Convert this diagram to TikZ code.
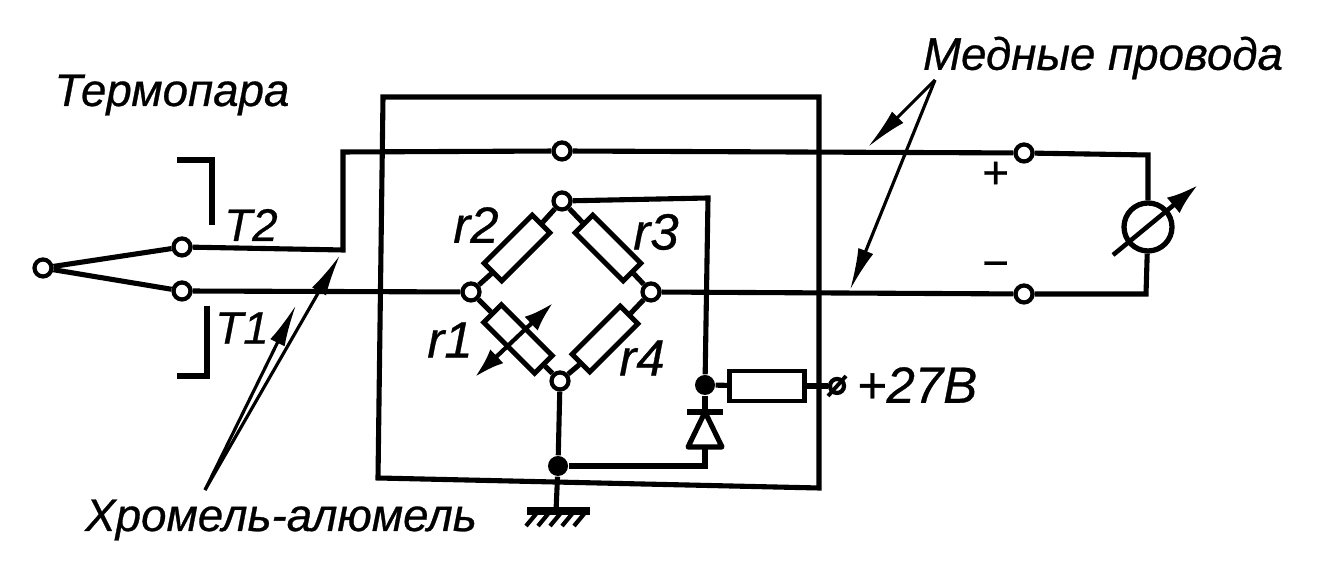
\documentclass[tikz,border=0pt]{standalone}
\usepackage{fontspec}
\setmainfont{Liberation Sans}[ItalicFeatures={FakeBold=0.6}]
\usetikzlibrary{arrows.meta}
\tikzset{
	wire/.style={line width=1.45pt},
	leader/.style={line width=.9pt, -{Latex[length=.42cm,width=.16cm]}},
	term/.style={circle, draw, line width=1.2pt, fill=white, inner sep=0pt, minimum size=.17cm},
	dot/.style={circle, fill=black, inner sep=0pt, minimum size=.2cm},
	res/.style={rectangle, draw, line width=1.4pt, fill=white, inner sep=0pt, minimum width=.68cm, minimum height=.25cm},
	lbl/.style={inner sep=0pt, font=\fontsize{13}{15}\selectfont\itshape},
	lblr/.style={inner sep=0pt, font=\fontsize{14.5}{16}\selectfont\itshape}
}

\begin{document}
\begin{tikzpicture}
\useasboundingbox (0,0) rectangle (13.17,5.61);
\draw [wire] (3.83,4.64) -- (8.19,4.64) -- (8.19,0.73) -- (3.78,0.83) -- cycle;

\node [term] (thermo) at (0.43,2.93) {};
\node [term] (tT2) at (1.82,3.14) {};
\node [term] (tT1) at (1.82,2.70) {};
\node [term] (wtop) at (5.62,4.10) {};
\node [term] (btop) at (5.62,3.60) {};
\node [term] (bleft) at (4.71,2.69) {};
\node [term] (bright) at (6.51,2.69) {};
\node [term] (bbot) at (5.60,1.80) {};
\node [term] (plus) at (10.24,4.08) {};
\node [term] (minus) at (10.24,2.67) {};
\node [term, minimum size=.14cm] (supply) at (8.37,1.75) {};
\node [dot] (dotr) at (7.05,1.76) {};
\node [dot] (dotb) at (5.58,0.95) {};
\node [circle, draw, line width=1.5pt, inner sep=0pt, minimum size=.48cm] (galvo) at (11.48,3.34) {};

\node [res, rotate=45] (r2) at (5.17,3.13) {};
\node [res, rotate=-45] (r3) at (6.08,3.13) {};
\node [res, rotate=-45, minimum width=.72cm] (r1) at (5.18,2.22) {};
\node [res, rotate=45] (r4) at (6.05,2.22) {};
\node [res, minimum width=.75cm, minimum height=.3cm] (rs) at (7.67,1.75) {};

\coordinate (bendA) at (3.43,3.11);
\coordinate (bendB) at (3.43,4.09);
\coordinate (bendC) at (11.48,4.06);
\coordinate (bendD) at (11.46,2.67);
\coordinate (bendE) at (7.08,3.63);
\coordinate (bendF) at (7.05,0.95);
\coordinate (dioA) at (7.05,1.49);
\coordinate (dioB) at (7.05,1.14);
\coordinate (gnd) at (5.56,0.50);

\draw [wire] (thermo) -- (tT2);
\draw [wire] (thermo) -- (tT1);
\draw [wire] (tT2) -- (bendA) -- (bendB) -- (wtop) -- (plus) -- (bendC) -- (galvo);
\draw [wire] (galvo) -- (bendD) -- (minus) -- (bright);
\draw [wire] (tT1) -- (bleft);
\draw [wire] (bleft) -- (r2.west);
\draw [wire] (r2.east) -- (btop);
\draw [wire] (btop) -- (r3.west);
\draw [wire] (r3.east) -- (bright);
\draw [wire] (bleft) -- (r1.west);
\draw [wire] (r1.east) -- (bbot);
\draw [wire] (bbot) -- (r4.west);
\draw [wire] (r4.east) -- (bright);
\draw [wire] (btop) -- (bendE) -- (dotr);
\draw [wire] (dotr) -- (rs);
\draw [wire] (rs) -- (supply);
\draw [wire] (dotr) -- (dioA);
\draw [wire] (dioB) -- (bendF) -- (dotb);
\draw [wire] (bbot) -- (dotb) -- (gnd);

% diode
\draw [wire, fill=white, line join=round] (dioA) -- (6.88,1.14) -- (7.22,1.14) -- cycle;
\draw [wire] (6.87,1.49) -- (7.23,1.49);
% ground
\draw [line width=2pt] (5.27,0.50) -- (5.90,0.50);
\foreach \x in {5.36,5.48,5.60,5.72,5.84}
	\draw [line width=1.2pt] (\x,0.47) -- (\x-.10,0.35);
% supply slash
\draw [line width=1.1pt] (8.28,1.65) -- (8.46,1.85);

% adjustable arrows
\coordinate (adjA) at (4.75,1.84);
\coordinate (adjB) at (5.53,2.58);
\draw [line width=1.2pt, {Latex[length=.3cm,width=.19cm]}-{Latex[length=.3cm,width=.19cm]}] (adjA) -- (adjB);
\coordinate (gaugeA) at (11.13,3.06);
\coordinate (gaugeB) at (11.98,3.76);
\draw [line width=1.3pt, -{Latex[length=.32cm,width=.2cm]}] (gaugeA) -- (gaugeB);

% brackets
\draw [wire] (1.77,4.01) -- (2.12,4.01) -- (2.12,3.36);
\draw [wire] (2.07,2.55) -- (2.07,1.85) -- (1.77,1.85);

% leaders
\coordinate (copper) at (9.35,4.81);
\coordinate (copperA) at (8.68,4.14);
\coordinate (copperB) at (8.50,2.71);
\coordinate (chromel) at (2.05,0.71);
\coordinate (chromelA) at (3.40,3.06);
\coordinate (chromelB) at (2.96,2.56);
\draw [leader] (copper) -- (copperA);
\draw [leader] (copper) -- (copperB);
\draw [leader] (chromel) -- (chromelA);
\draw [leader] (chromel) -- (chromelB);

% labels
\node [lbl] (ltherm) at (1.72,4.66) {Термопара};
\node [lbl] (lcopper) at (11.03,5.03) {Медные провода};
\node [lbl] (lchromel) at (2.81,0.41) {Хромель-алюмель};
\node [lbl] (lT2) at (2.51,3.36) {Т2};
\node [lbl] (lT1) at (2.42,2.33) {Т1};
\node [lblr] (lr2) at (4.76,3.36) {r2};
\node [lblr] (lr3) at (6.56,3.29) {r3};
\node [lblr] (lr1) at (4.50,2.21) {r1};
\node [lblr] (lr4) at (6.42,2.03) {r4};
\node [lbl] (lplus) at (9.95,3.86) {+};
\node [lbl] (lminus) at (9.95,2.91) {−};
\node [lblr] (lsupply) at (9.17,1.76) {+27В};
\end{tikzpicture}
\end{document}
